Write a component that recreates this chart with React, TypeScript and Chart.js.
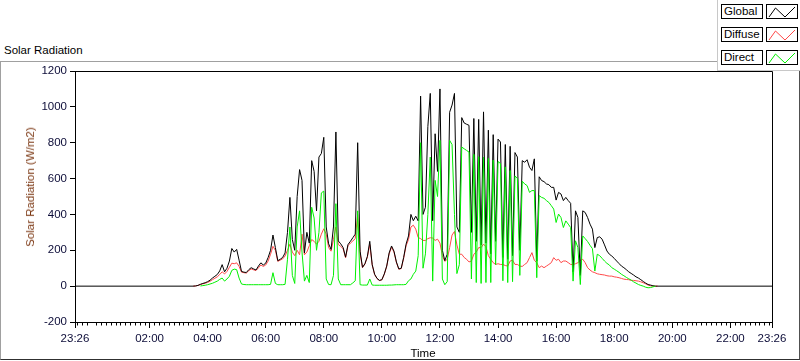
import React, { useEffect, useRef } from 'react';
import { Chart, registerables } from 'chart.js';

Chart.register(...registerables);

// time axis in minutes after midnight (23:26 previous day = -34)
const X_MIN = -34;
const X_MAX = 1406;
const START_MIN = 210; // 03:30, first sampled value
const STEP_MIN = 5;

const xTickValues = [-34, 120, 240, 360, 480, 600, 720, 840, 960, 1080, 1200, 1320, 1406];
const yTickValues = [-200, 0, 200, 400, 600, 800, 1000, 1200];
const seriesNames = ['Global', 'Diffuse', 'Direct'];
const seriesColors = ['#000000', '#ff4848', '#00f000'];

const globalValues = [
  0, 1, 4, 10, 15, 19,
  25, 33, 45, 55, 65, 85, 120, 80, 100, 140, 210, 190,
  205, 145, 82, 78, 76, 92, 103, 96, 90, 112, 130, 118,
  128, 160, 200, 285, 215, 142, 150, 160, 185, 300, 495, 260,
  200, 500, 650, 590, 185, 300, 240, 700, 640, 420, 720, 740,
  830, 330, 236, 205, 330, 860, 252, 236, 215, 162, 232, 250,
  270, 290, 800, 195, 105, 125, 165, 250, 120, 66, 43, 32,
  36, 68, 112, 185, 224, 195, 135, 96, 100, 160, 234, 280,
  400, 365, 390, 364, 1060, 400, 440, 890, 1075, 365, 850, 640,
  1100, 200, 142, 178, 970, 1010, 1075, 330, 300, 940, 910, 903,
  897, 300, 935, 250, 930, 230, 972, 240, 870, 180, 845, 250,
  820, 804, 160, 790, 150, 780, 170, 745, 720, 200, 700, 691,
  705, 663, 645, 710, 140, 610, 589, 583, 570, 566, 551, 551,
  480, 523, 514, 477, 495, 477, 462, 80, 420, 383, 60, 420,
  411, 383, 346, 318, 215, 271, 275, 262, 230, 196, 178, 168,
  155, 140, 126, 112, 103, 92, 80, 71, 62, 52, 45, 36,
  26, 17, 9, 6, 2, 0, 0,
];

const diffuseValues = [
  0, 1, 4, 9, 13, 16,
  21, 27, 36, 44, 52, 65, 80, 68, 82, 105, 128, 125,
  130, 110, 78, 75, 73, 86, 96, 91, 87, 102, 118, 110,
  118, 140, 178, 222, 200, 138, 145, 152, 168, 200, 234, 190,
  170, 200, 175, 290, 175, 190, 225, 260, 250, 234, 250, 290,
  320, 290, 215, 195, 260, 330, 232, 222, 208, 158, 226, 240,
  252, 265, 400, 180, 103, 123, 162, 232, 118, 65, 42, 31,
  35, 66, 110, 180, 218, 190, 132, 94, 98, 155, 225, 260,
  330, 340, 318, 271, 265, 255, 255, 265, 270, 268, 255, 262,
  240, 170, 138, 150, 215, 285, 305, 230, 178, 178, 160, 150,
  135, 140, 178, 190, 215, 215, 234, 220, 170, 150, 131, 121,
  125, 121, 121, 115, 112, 140, 145, 121, 121, 112, 110, 121,
  131, 159, 187, 144, 131, 103, 112, 103, 112, 121, 131, 159,
  144, 150, 131, 140, 140, 131, 121, 121, 125, 131, 144, 150,
  131, 103, 90, 80, 75, 69, 66, 64, 62, 58, 56, 56,
  52, 50, 47, 43, 39, 37, 36, 32, 32, 30, 28, 24,
  19, 13, 6, 2, 0, 0, 0,
];

const directValues: (number | null)[] = [
  null, null, null, 1, 3, 5,
  8, 12, 16, 22, 28, 38, 45, 28, 40, 55, 88, 95,
  92, 45, 12, 9, 8, 8, 8, 8, 8, 8, 8, 8,
  8, 8, 10, 75, 15, 8, 8, 8, 10, 150, 330, 60,
  15, 330, 420, 190, 28, 60, 20, 440, 380, 200, 300, 520,
  530, 40, 9, 8, 60, 460, 40, 8, 8, 8, 8, 8,
  18, 30, 420, 8, 6, 6, 6, 40, 6, 5, 5, 5,
  5, 5, 5, 6, 6, 7, 8, 8, 8, 8, 10, 30,
  40, 66, 84, 170, 800, 100, 180, 400, 720, 28, 590, 500,
  813, 40, 8, 25, 813, 790, 400, 70, 120, 776, 766, 757,
  748, 40, 735, 20, 722, 15, 720, 20, 712, 20, 703, 120,
  695, 684, 30, 665, 20, 645, 25, 615, 600, 60, 585, 570,
  561, 523, 533, 533, 47, 505, 495, 490, 477, 467, 449, 430,
  355, 402, 383, 327, 364, 346, 327, 28, 253, 215, 9, 280,
  265, 249, 228, 209, 84, 178, 170, 155, 140, 127, 118, 103,
  95, 86, 77, 66, 58, 49, 41, 34, 24, 17, 9, 4,
  0, -6, -9, -8, -4, 0, null,
];

const FONT = '"Liberation Sans", Arial, sans-serif';
const TICK_COLOR = '#0c0c38';

function fmtTime(v: number): string {
  const m = ((Math.round(v) % 1440) + 1440) % 1440;
  const h = Math.floor(m / 60);
  const mm = m % 60;
  return String(h).padStart(2, '0') + ':' + String(mm).padStart(2, '0');
}

function toPoints(values: (number | null)[], padEnds: boolean) {
  const pts: { x: number; y: number | null }[] = values.map((v, i) => ({ x: START_MIN + i * STEP_MIN, y: v }));
  if (padEnds) {
    pts.unshift({ x: X_MIN, y: 0 });
    pts.push({ x: X_MAX, y: 0 });
  }
  return pts;
}

const plotDecor = {
  id: 'plotDecor',
  afterDraw(chart: any) {
    const { ctx, chartArea } = chart;
    const xs = chart.scales.x;
    ctx.save();
    ctx.strokeStyle = '#000';
    ctx.lineWidth = 1;
    const l = Math.round(chartArea.left) + 0.5;
    const t = Math.round(chartArea.top) + 0.5;
    const r = Math.round(chartArea.right) + 0.5;
    const b = Math.round(chartArea.bottom) + 0.5;
    ctx.beginPath();
    ctx.rect(l, t, r - l, b - t);
    ctx.stroke();
    // minor ticks on time axis every 10 minutes
    ctx.beginPath();
    for (let m = -30; m <= 1400; m += 10) {
      if (m % 120 === 0) continue;
      const px = Math.round(xs.getPixelForValue(m)) + 0.5;
      ctx.moveTo(px, b);
      ctx.lineTo(px, b + 3);
    }
    ctx.stroke();
    ctx.restore();
  },
};

function LegendIcon({ color }: { color: string }) {
  return (
    <svg width={30} height={14} style={{ display: 'block' }}>
      <polyline points="2,12 8.5,3 18,12 28,2" fill="none" stroke={color} strokeWidth={1} />
    </svg>
  );
}

export default function App() {
  const canvasRef = useRef<HTMLCanvasElement | null>(null);

  useEffect(() => {
    document.body.style.margin = '0';
    const canvas = canvasRef.current;
    if (!canvas) return;
    const chart = new Chart(canvas, {
      type: 'line',
      data: {
        datasets: [
          {
            label: seriesNames[2],
            data: toPoints(directValues, false),
            borderColor: seriesColors[2],
            borderWidth: 1,
            pointRadius: 0,
            order: 0,
          },
          {
            label: seriesNames[0],
            data: toPoints(globalValues, true),
            borderColor: seriesColors[0],
            borderWidth: 1,
            pointRadius: 0,
            order: 1,
          },
          {
            label: seriesNames[1],
            data: toPoints(diffuseValues, false),
            borderColor: seriesColors[1],
            borderWidth: 1,
            pointRadius: 0,
            order: 2,
          },
        ],
      },
      options: {
        responsive: false,
        animation: false,
        events: [],
        layout: { padding: { left: 0, top: 71, right: 28, bottom: 0 } },
        plugins: {
          legend: { display: false },
          tooltip: { enabled: false },
          title: { display: false },
        },
        elements: { line: { tension: 0 }, point: { radius: 0 } },
        scales: {
          x: {
            type: 'linear',
            min: X_MIN,
            max: X_MAX,
            position: 'bottom',
            afterBuildTicks: (s: any) => {
              s.ticks = xTickValues.map((v) => ({ value: v }));
            },
            afterFit: (s: any) => {
              s.height = 39;
            },
            ticks: {
              autoSkip: false,
              maxRotation: 0,
              minRotation: 0,
              padding: 4,
              color: TICK_COLOR,
              font: { family: FONT, size: 11.5 },
              callback: (v: any) => fmtTime(Number(v)),
            },
            grid: { display: true, drawOnChartArea: false, drawTicks: true, tickLength: 6, color: '#000', lineWidth: 1 },
            border: { display: true, color: '#000', width: 1 },
          },
          y: {
            type: 'linear',
            min: -200,
            max: 1200,
            afterBuildTicks: (s: any) => {
              s.ticks = yTickValues.map((v) => ({ value: v }));
            },
            afterFit: (s: any) => {
              s.width = 75;
            },
            ticks: {
              padding: 3,
              color: TICK_COLOR,
              font: { family: FONT, size: 11.5 },
              callback: (v: any) => String(v),
            },
            grid: { display: true, drawOnChartArea: false, drawTicks: true, tickLength: 5, color: '#000', lineWidth: 1 },
            border: { display: true, color: '#000', width: 1 },
          },
        },
      } as any,
      plugins: [plotDecor],
    });
    return () => chart.destroy();
  }, []);

  const legendRows = [0, 1, 2];
  const rowTops = [4, 27, 50];

  return (
    <div
      style={{
        position: 'fixed',
        left: 0,
        top: 0,
        width: 800,
        height: 361,
        background: '#ffffff',
        fontFamily: FONT,
        fontSize: 11.5,
        overflow: 'hidden',
      }}
    >
      <div style={{ position: 'absolute', left: 4, top: 43, lineHeight: '14px', color: '#000', whiteSpace: 'nowrap' }}>
        Solar Radiation
      </div>
      <div
        style={{
          position: 'absolute',
          left: 0,
          top: 61,
          width: 798,
          height: 297,
          borderTop: '1px solid #a0a0a0',
          borderLeft: '1px solid #a0a0a0',
          borderRight: '1px solid #505050',
          borderBottom: '1px solid #303030',
        }}
      />
      <canvas ref={canvasRef} width={800} height={361} style={{ position: 'absolute', left: 0, top: 0, display: 'block' }} />
      <div
        style={{
          position: 'absolute',
          left: 30,
          top: 187,
          transform: 'translate(-50%, -50%) rotate(-90deg)',
          whiteSpace: 'nowrap',
          color: '#7a3510',
          lineHeight: '14px',
        }}
      >
        Solar Radiation (W/m2)
      </div>
      <div
        style={{
          position: 'absolute',
          left: 423,
          top: 353,
          transform: 'translate(-50%, -50%)',
          whiteSpace: 'nowrap',
          color: '#000',
          lineHeight: '14px',
        }}
      >
        Time
      </div>
      <div
        style={{
          position: 'absolute',
          left: 717,
          top: 0,
          width: 83,
          height: 71,
          background: '#fff',
          borderLeft: '1px solid #c8c8c8',
          borderBottom: '1px solid #c8c8c8',
          boxSizing: 'border-box',
        }}
      />
      {legendRows.map((i) => (
        <React.Fragment key={seriesNames[i]}>
          <div
            style={{
              position: 'absolute',
              left: 721,
              top: rowTops[i],
              width: 42,
              height: 15,
              border: '1px solid #000',
              boxSizing: 'border-box',
              lineHeight: '13px',
              paddingLeft: 2,
              color: '#000',
              background: '#fff',
              whiteSpace: 'nowrap',
            }}
          >
            {seriesNames[i]}
          </div>
          <div
            style={{
              position: 'absolute',
              left: 766,
              top: rowTops[i],
              width: 32,
              height: 15,
              border: '1px solid #000',
              boxSizing: 'border-box',
              background: '#fff',
            }}
          >
            <LegendIcon color={seriesColors[i]} />
          </div>
        </React.Fragment>
      ))}
    </div>
  );
}
